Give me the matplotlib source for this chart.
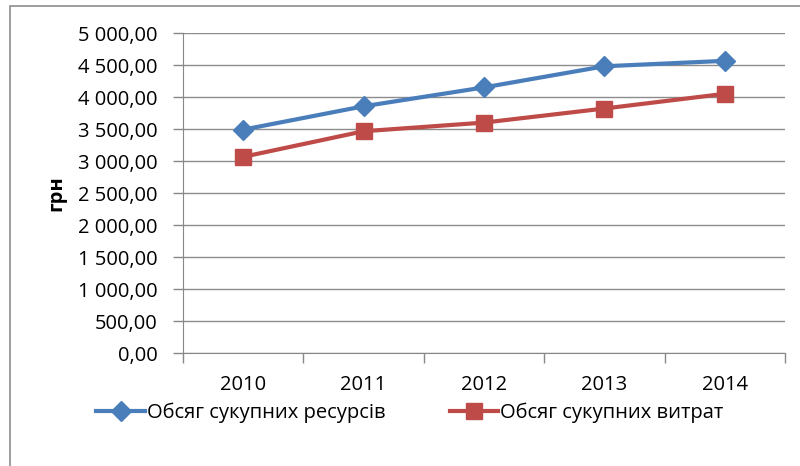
import matplotlib
matplotlib.use("Agg")
import matplotlib.pyplot as plt
from matplotlib.ticker import FuncFormatter, MultipleLocator
from matplotlib.lines import Line2D
from matplotlib.patches import Rectangle

years = ["2010", "2011", "2012", "2013", "2014"]
resources = [3490, 3855, 4150, 4480, 4565]
expenses = [3065, 3465, 3600, 3820, 4050]
series_names = ["Обсяг сукупних ресурсів", "Обсяг сукупних витрат"]
y_label = "грн"

plt.rcParams['font.family'] = ['Open Sans', 'DejaVu Sans']

fig = plt.figure(figsize=(8.0, 4.66), dpi=100)
W, H = 800, 466
ax = fig.add_axes([183 / W, 1 - 353 / H, (785 - 183) / W, (353 - 33) / H])

blue = "#4A7EBB"
red = "#BE4B48"
x = list(range(len(years)))
ax.plot(x, resources, color=blue, lw=3, marker="D", ms=10, mfc=blue, mec=blue, zorder=3)
ax.plot(x, expenses, color=red, lw=3, marker="s", ms=11, mfc=red, mec=red, zorder=3)

ax.set_xlim(-0.5, len(years) - 0.5)
ax.set_ylim(0, 5000)
ax.yaxis.set_major_locator(MultipleLocator(500))

def fmt(v, pos):
    s = f"{v:,.2f}".replace(",", " ").replace(".", ",")
    return s
ax.yaxis.set_major_formatter(FuncFormatter(fmt))

ax.set_xticks(x)
ax.set_xticklabels(years)
ax.set_xticks([i - 0.5 for i in range(len(years) + 1)], minor=True)
ax.tick_params(axis="x", which="major", length=0, pad=16, labelsize=14.5)
ax.tick_params(axis="x", which="minor", length=7, color="#888888", width=1)
ax.tick_params(axis="y", which="major", length=7, color="#888888", width=1, labelsize=14.5, pad=11)

ax.grid(axis="y", color="#8C8C8C", lw=1)
ax.set_axisbelow(True)
for s in ["top", "right"]:
    ax.spines[s].set_visible(False)
ax.spines["left"].set_color("#888888")
ax.spines["bottom"].set_color("#888888")

ax.set_ylabel(y_label, fontsize=14.5, fontweight="bold", labelpad=9)

handles = [
    Line2D([], [], color=blue, lw=3, marker="D", ms=10),
    Line2D([], [], color=red, lw=3, marker="s", ms=11),
]
fig.legend(handles, series_names, loc="center", bbox_to_anchor=(410 / W, 1 - 413 / H),
           ncol=2, frameon=False, fontsize=14.5, handlelength=2.4, handletextpad=0.1,
           columnspacing=3.2)

fig.patches.append(Rectangle((10 / W, -0.1), 1.2, (1 - 6 / H) + 0.1, transform=fig.transFigure,
                             fill=False, edgecolor="#8C8C8C", lw=1.2))

fig.savefig("out.png", dpi=100)
